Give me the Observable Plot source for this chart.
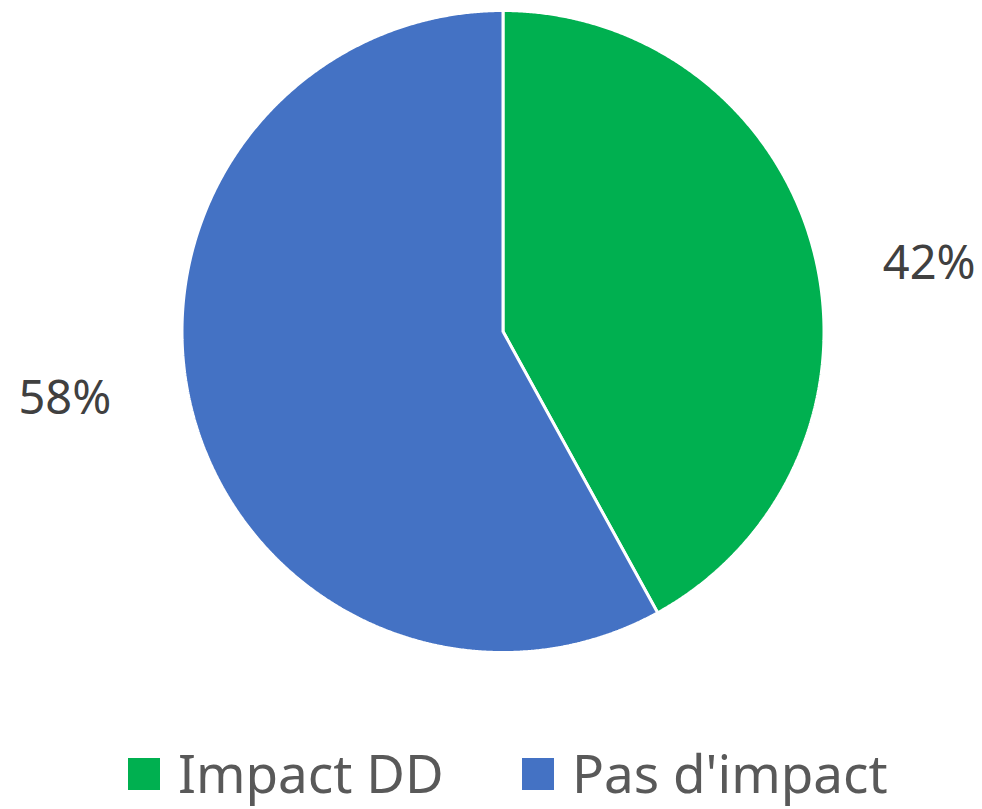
<!DOCTYPE html>
<html>
<head>
<meta charset="utf-8">
<script src="https://cdn.jsdelivr.net/npm/d3@7"></script>
<script src="https://cdn.jsdelivr.net/npm/@observablehq/plot@0.6"></script>
<style>
  html, body { margin: 0; padding: 0; background: #fff; }
  body { width: 982px; height: 809px; overflow: hidden; font-family: "Noto Sans", sans-serif; }
  #legend { position: absolute; left: 0; top: 742px; width: 982px; height: 62px; }
  .item { position: absolute; top: 0; height: 62px; display: flex; align-items: center; font-size: 53px; line-height: 62px; color: #595959; white-space: nowrap; }
  .sw { width: 32px; height: 32px; margin-right: 18px; margin-top: 2px; }
</style>
</head>
<body>
<div id="chart"></div>
<div id="legend"></div>
<script>
const categories = ["Impact DD", "Pas d'impact"];
const values = [42, 58];
const labels = ["42%", "58%"];
const colors = ["#00B050", "#4472C4"];

const arcs = d3.pie().sort(null).value(d => d)(values);

// polygon vertices for each slice, derived from the pie angles
const slicePts = [];
arcs.forEach((a, i) => {
  const n = Math.max(2, Math.ceil((a.endAngle - a.startAngle) / 0.005));
  slicePts.push({cat: categories[i], x: 0, y: 0});
  for (let k = 0; k <= n; k++) {
    const t = a.startAngle + (a.endAngle - a.startAngle) * k / n;
    slicePts.push({cat: categories[i], x: Math.sin(t), y: Math.cos(t)});
  }
  slicePts.push({cat: categories[i], x: 0, y: 0});
});

const labelData = arcs.map((a, i) => {
  const m = (a.startAngle + a.endAngle) / 2;
  return {label: labels[i], x: 1.39 * Math.sin(m), y: 0.85 * Math.cos(m)};
});

const chart = Plot.plot({
  width: 982,
  height: 735,
  margin: 0,
  x: {domain: [-1, 1], range: [181.5, 823.5], axis: null},
  y: {domain: [-1, 1], range: [652, 10], axis: null},
  color: {domain: categories, range: colors},
  marks: [
    Plot.line(slicePts, {x: "x", y: "y", z: "cat", fill: "cat", stroke: "white", strokeWidth: 3, strokeLinejoin: "miter", curve: "linear"}),
    Plot.text(labelData, {x: "x", y: "y", text: "label", dx: -6, fontSize: 47, fill: "#404040", fontFamily: "Noto Sans", textAnchor: "middle", lineAnchor: "middle"})
  ]
});
document.getElementById("chart").appendChild(chart);

const legend = document.getElementById("legend");
const lefts = [128, 522];
categories.forEach((c, i) => {
  const it = document.createElement("div");
  it.className = "item";
  it.style.left = lefts[i] + "px";
  it.innerHTML = `<span class="sw" style="background:${colors[i]}"></span><span>${c}</span>`;
  legend.appendChild(it);
});
</script>
</body>
</html>
